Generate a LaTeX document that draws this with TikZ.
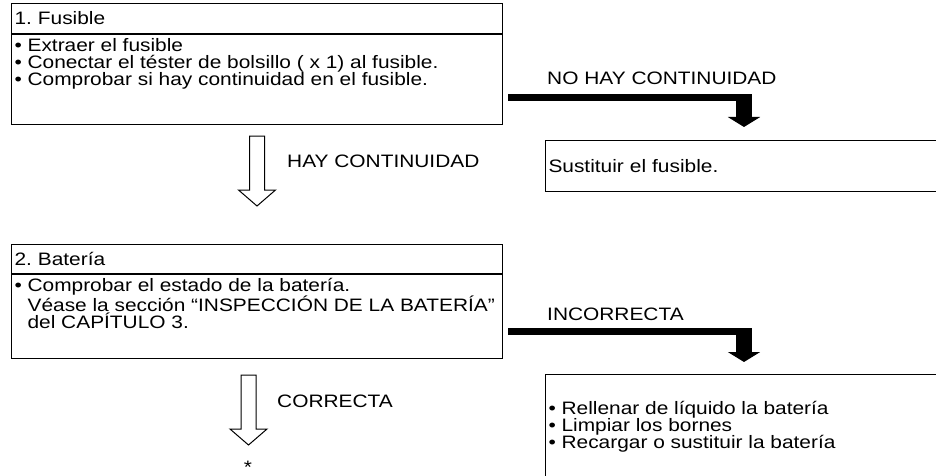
\documentclass[tikz,border=0pt]{standalone}
\usepackage{fontspec}
\setmainfont{Liberation Sans}[FakeStretch=1.16]
\usetikzlibrary{arrows.meta}
\frenchspacing

\tikzset{
    frame/.style={draw, line width=1pt, anchor=north west, inner sep=3pt},
    headbox/.style={frame, align=left, text width=485pt, minimum height=30pt, text height=13pt, text depth=0pt},
    tag/.style={anchor=base west, inner sep=0pt},
    fatstub/.style={line width=16pt, -{Triangle[width=32pt,length=10pt]}},
    downarrow/.pic={
        \draw[line width=1pt, line join=miter] (-7.5,0) -- (-7.5,54) -- (-18.5,54) -- (0,70)
            -- (18.5,54) -- (7.5,54) -- (7.5,0) -- cycle;
    }
}
\newcommand{\stepfont}{\fontsize{18}{17}\selectfont}
\newcommand{\stepbody}[3]{\begin{minipage}[t][#2][t]{#1}\stepfont
    \baselineskip=17pt \lineskiplimit=0pt \lineskip=1pt #3\end{minipage}}

\begin{document}
\begin{tikzpicture}[x=1pt, y=-1pt, every node/.style={font=\stepfont}]
    \useasboundingbox (0,0) rectangle (936,476);

    % Step 1
    \node[headbox] (head1) at (11,3) {1. Fusible};
    \node[frame] (body1) at (head1.south west) {\stepbody{485pt}{84pt}{%
        \rule{0pt}{14pt}• Extraer el fusible\par
        • Conectar el téster de bolsillo ( x 1) al fusible.\par
        • Comprobar si hay continuidad en el fusible.}};

    \node[frame, align=left, text width=399pt, minimum height=51pt, text height=13pt, text depth=0pt]
        (fix1) at (545,140) {Sustituir el fusible.};

    % Step 2
    \node[headbox, minimum height=29pt] (head2) at (11,244) {2. Batería};
    \node[frame] (body2) at (head2.south west) {\stepbody{485pt}{78pt}{%
        \rule{0pt}{14pt}• Comprobar el estado de la batería.\par
        \hphantom{• }Véase la sección “INSPECCIÓN DE LA BATERÍA”\par
        \hphantom{• }del CAPÍTULO 3.}};

    \node[frame] (fix2) at (545,374) {\stepbody{399pt}{110pt}{%
        \rule{0pt}{37pt}• Rellenar de líquido la batería\par
        • Limpiar los bornes\par
        • Recargar o sustituir la batería}};

    % branch labels
    \node[tag] (no1) at (547,85) {NO HAY CONTINUIDAD};
    \node[tag] (yes1) at (287,167) {HAY CONTINUIDAD};
    \node[tag] (no2) at (547,320) {INCORRECTA};
    \node[tag] (yes2) at (277,407) {CORRECTA};
    \node[anchor=base, inner sep=0pt] (next) at (248,473) {*};

    % fat arrows to the repairs
    \coordinate (s1) at ([xshift=5pt,yshift=-18.5pt]body1.east);
    \coordinate (t1) at ([xshift=199pt,yshift=13pt]fix1.north west);
    \coordinate (c1) at (s1 -| t1);
    \fill ([yshift=3.5pt]s1) rectangle ([xshift=8pt,yshift=-3.5pt]c1);
    \draw[fatstub] ([yshift=3.5pt]c1) -- (t1);

    \coordinate (s2) at ([xshift=5pt,yshift=-15pt]body2.east);
    \coordinate (t2) at ([xshift=199pt,yshift=12pt]fix2.north west);
    \coordinate (c2) at (s2 -| t2);
    \fill ([yshift=3.5pt]s2) rectangle ([xshift=8pt,yshift=-3.5pt]c2);
    \draw[fatstub] ([yshift=3.5pt]c2) -- (t2);

    % hollow arrows down
    \pic at ([xshift=246pt,yshift=-11pt]body1.south west) {downarrow};
    \pic at ([xshift=237.5pt,yshift=-16pt]body2.south west) {downarrow};

\end{tikzpicture}
\end{document}
